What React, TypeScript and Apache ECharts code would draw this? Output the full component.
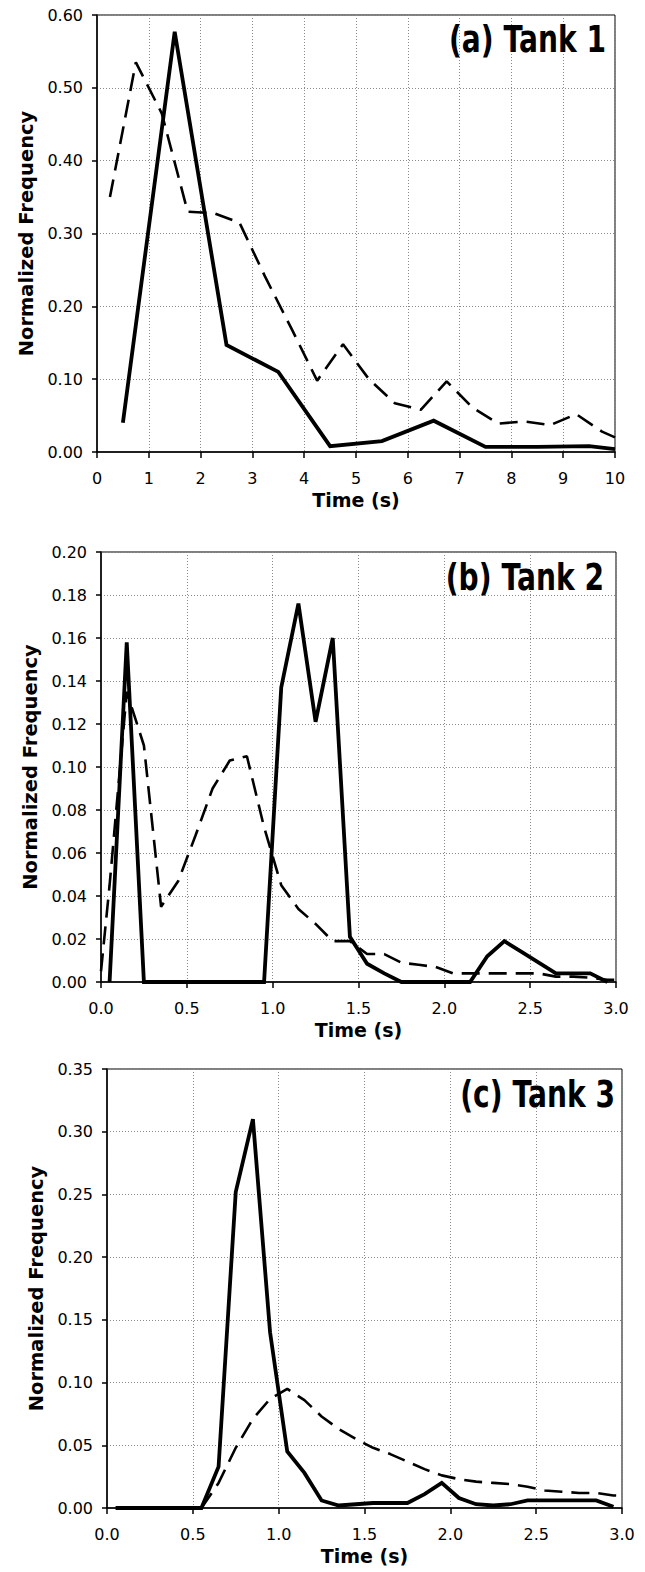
import React, { useEffect, useRef } from "react";
import * as echarts from "echarts";

// ---------- Data ----------
const tank1SolidTime = [0.5, 1.5, 2.5, 3.5, 4.5, 5.5, 6.5, 7.5, 8.5, 9.5, 10];
const tank1SolidValue = [0.04, 0.577, 0.147, 0.11, 0.008, 0.015, 0.043, 0.007, 0.007, 0.008, 0.004];
const tank1DashedTime = [0.25, 0.75, 1.25, 1.75, 2.25, 2.75, 3.25, 3.75, 4.25, 4.75, 5.25, 5.75, 6.25, 6.75, 7.25, 7.75, 8.25, 8.75, 9.25, 9.75, 10];
const tank1DashedValue = [0.35, 0.535, 0.465, 0.33, 0.328, 0.315, 0.24, 0.17, 0.098, 0.148, 0.1, 0.067, 0.058, 0.097, 0.061, 0.039, 0.042, 0.037, 0.052, 0.028, 0.02];

const tank2SolidTime = [0.05, 0.15, 0.25, 0.35, 0.45, 0.55, 0.65, 0.75, 0.85, 0.95, 1.05, 1.15, 1.25, 1.35, 1.45, 1.55, 1.65, 1.75, 1.85, 1.95, 2.05, 2.15, 2.25, 2.35, 2.45, 2.55, 2.65, 2.75, 2.85, 2.95];
const tank2SolidValue = [0, 0.158, 0, 0, 0, 0, 0, 0, 0, 0, 0.137, 0.176, 0.121, 0.16, 0.021, 0.0085, 0.004, 0, 0, 0, 0, 0, 0.012, 0.019, 0.014, 0.009, 0.004, 0.004, 0.004, 0];
const tank2DashedTime = [0, 0.05, 0.15, 0.25, 0.35, 0.45, 0.55, 0.65, 0.75, 0.85, 0.95, 1.05, 1.15, 1.25, 1.35, 1.45, 1.55, 1.65, 1.75, 1.85, 1.95, 2.05, 2.15, 2.25, 2.35, 2.45, 2.55, 2.65, 2.75, 2.85, 2.95, 3.0];
const tank2DashedValue = [0.005, 0.045, 0.135, 0.11, 0.035, 0.047, 0.068, 0.09, 0.103, 0.105, 0.072, 0.045, 0.034, 0.027, 0.019, 0.019, 0.013, 0.013, 0.009, 0.008, 0.007, 0.004, 0.004, 0.004, 0.004, 0.004, 0.004, 0.0025, 0.0025, 0.002, 0.001, 0.001];

const tank3SolidTime = [0.05, 0.15, 0.25, 0.35, 0.45, 0.55, 0.65, 0.75, 0.85, 0.95, 1.05, 1.15, 1.25, 1.35, 1.45, 1.55, 1.65, 1.75, 1.85, 1.95, 2.05, 2.15, 2.25, 2.35, 2.45, 2.55, 2.65, 2.75, 2.85, 2.95];
const tank3SolidValue = [0, 0, 0, 0, 0, 0, 0.033, 0.252, 0.31, 0.14, 0.045, 0.028, 0.006, 0.002, 0.003, 0.004, 0.004, 0.004, 0.011, 0.02, 0.008, 0.003, 0.002, 0.003, 0.006, 0.006, 0.006, 0.006, 0.006, 0.001];
const tank3DashedTime = [0.55, 0.65, 0.75, 0.85, 0.95, 1.05, 1.15, 1.25, 1.35, 1.45, 1.55, 1.65, 1.75, 1.85, 1.95, 2.05, 2.15, 2.25, 2.35, 2.45, 2.55, 2.65, 2.75, 2.85, 2.95, 3.0];
const tank3DashedValue = [0, 0.02, 0.048, 0.071, 0.087, 0.095, 0.086, 0.073, 0.063, 0.055, 0.048, 0.043, 0.037, 0.031, 0.026, 0.023, 0.021, 0.02, 0.019, 0.017, 0.014, 0.013, 0.012, 0.012, 0.01, 0.0098];

const panelTitles = ["(a) Tank 1", "(b) Tank 2", "(c) Tank 3"];
const xAxisTitle = "Time (s)";
const yAxisTitle = "Normalized Frequency";

// ---------- Helpers ----------
const zip = (xs: number[], ys: number[]) => xs.map((x, i) => [x, ys[i]]);

const TICK_FONT = "DejaVu Sans";

const panels = [
  {
    grid: { left: 97, top: 15, width: 518, height: 437 },
    x: { min: 0, max: 10, interval: 1, dec: 0 },
    y: { min: 0, max: 0.6, interval: 0.1 },
    solid: zip(tank1SolidTime, tank1SolidValue),
    dashed: zip(tank1DashedTime, tank1DashedValue),
    title: { x: 606, y: 21 },
  },
  {
    grid: { left: 101, top: 552, width: 515, height: 430 },
    x: { min: 0, max: 3, interval: 0.5, dec: 1 },
    y: { min: 0, max: 0.2, interval: 0.02 },
    solid: zip(tank2SolidTime, tank2SolidValue),
    dashed: zip(tank2DashedTime, tank2DashedValue),
    title: { x: 604, y: 559 },
  },
  {
    grid: { left: 107, top: 1069, width: 515, height: 439 },
    x: { min: 0, max: 3, interval: 0.5, dec: 1 },
    y: { min: 0, max: 0.35, interval: 0.05 },
    solid: zip(tank3SolidTime, tank3SolidValue),
    dashed: zip(tank3DashedTime, tank3DashedValue),
    title: { x: 615, y: 1076 },
  },
];

export default function App() {
  const ref = useRef<HTMLDivElement>(null);

  useEffect(() => {
    if (!ref.current) return;
    const chart = echarts.init(ref.current, undefined, { renderer: "svg" });

    const grids = panels.map((p) => ({
      ...p.grid,
      show: true,
      borderColor: "#000",
      borderWidth: 1,
      backgroundColor: "#fff",
      containLabel: false,
    }));

    const splitLine = {
      show: true,
      lineStyle: { color: "#8a8a8a", type: [1, 2] as any, width: 1 },
    };

    const xAxes = panels.map((p, i) => ({
      type: "value",
      gridIndex: i,
      min: p.x.min,
      max: p.x.max,
      interval: p.x.interval,
      name: xAxisTitle,
      nameLocation: "middle",
      nameGap: 38,
      nameTextStyle: { fontFamily: TICK_FONT, fontWeight: "bold", fontSize: 19, color: "#000" },
      axisLine: { show: true, lineStyle: { color: "#000", width: 1.5 } },
      axisTick: { show: true, inside: false, length: 6, lineStyle: { color: "#000", width: 1.5 } },
      axisLabel: {
        margin: 18,
        fontFamily: TICK_FONT,
        fontSize: 16,
        color: "#000",
        formatter: (v: number) => v.toFixed(p.x.dec),
      },
      splitLine,
    }));

    const yAxes = panels.map((p, i) => ({
      type: "value",
      gridIndex: i,
      min: p.y.min,
      max: p.y.max,
      interval: p.y.interval,
      name: yAxisTitle,
      nameLocation: "middle",
      nameGap: 57,
      nameTextStyle: { fontFamily: TICK_FONT, fontWeight: "bold", fontSize: 19.5, color: "#000" },
      axisLine: { show: true, lineStyle: { color: "#000", width: 1.5 } },
      axisTick: { show: true, inside: false, length: 5, lineStyle: { color: "#000", width: 1.5 } },
      axisLabel: {
        margin: 14,
        fontFamily: TICK_FONT,
        fontSize: 16,
        color: "#000",
        formatter: (v: number) => v.toFixed(2),
      },
      splitLine,
    }));

    const series: any[] = [];
    panels.forEach((p, i) => {
      series.push({
        name: `Tank ${i + 1} dashed`,
        type: "line",
        xAxisIndex: i,
        yAxisIndex: i,
        data: p.dashed,
        showSymbol: false,
        symbol: "none",
        lineStyle: { color: "#000", width: 2.6, type: [18, 9] },
        z: 3,
      });
      series.push({
        name: `Tank ${i + 1} solid`,
        type: "line",
        xAxisIndex: i,
        yAxisIndex: i,
        data: p.solid,
        showSymbol: false,
        symbol: "none",
        lineStyle: { color: "#000", width: 3.8, type: "solid", join: "miter" },
        z: 4,
      });
    });

    const graphic = panels.map((p, i) => ({
      type: "text",
      x: p.title.x,
      y: p.title.y,
      scaleX: 0.76,
      z: 10,
      style: {
        text: panelTitles[i],
        fontFamily: "DejaVu Sans",
        fontWeight: "bold",
        fontSize: 37,
        fill: "#000",
        align: "right",
        verticalAlign: "top",
      },
    }));

    chart.setOption({
      animation: false,
      backgroundColor: "#fff",
      grid: grids,
      xAxis: xAxes,
      yAxis: yAxes,
      series,
      graphic,
    });

    return () => chart.dispose();
  }, []);

  return (
    <div
      ref={ref}
      style={{ position: "absolute", left: 0, top: 0, width: 645, height: 1572, background: "#fff" }}
    />
  );
}
